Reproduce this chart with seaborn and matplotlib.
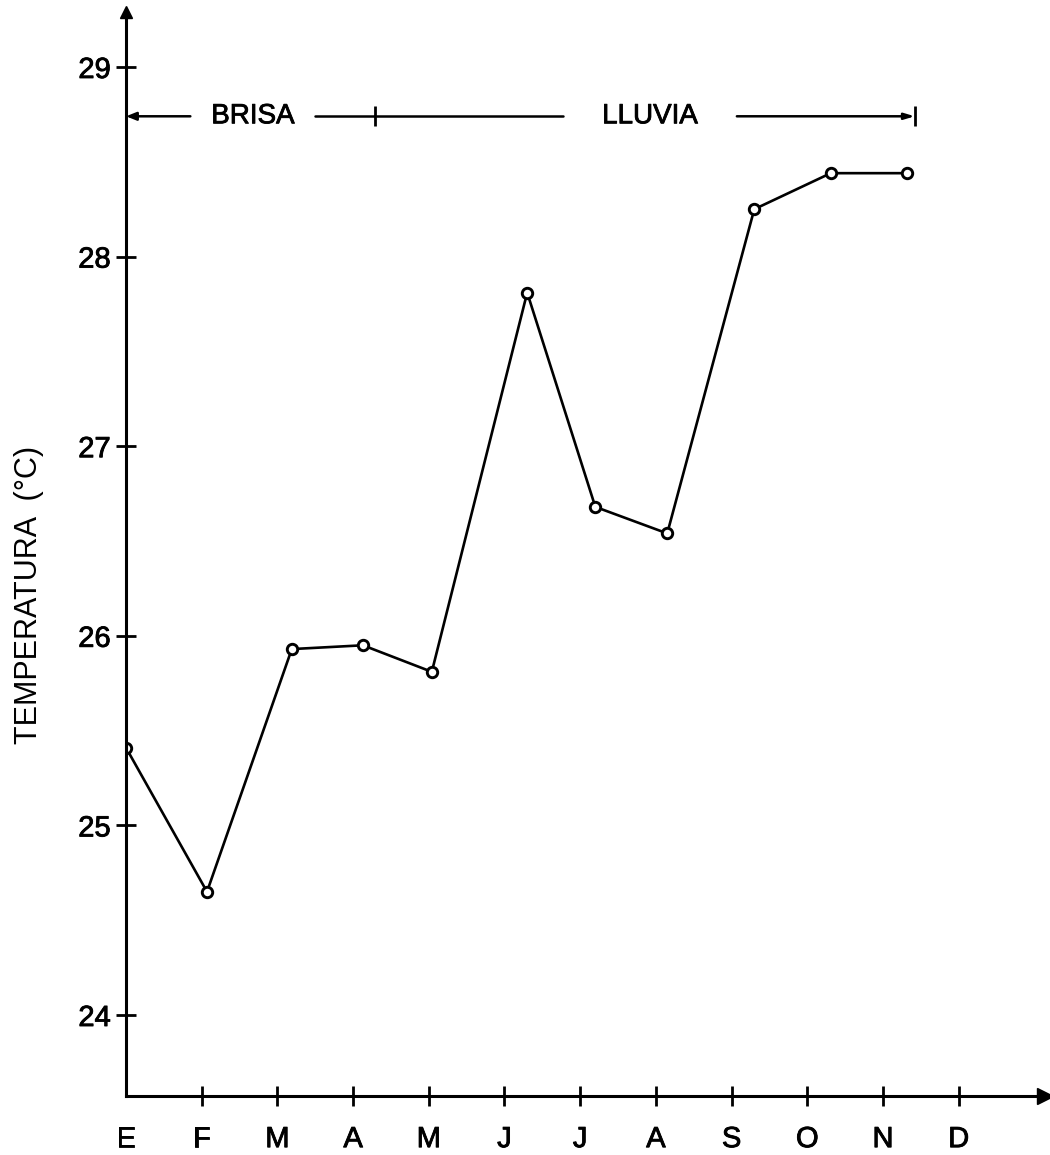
import matplotlib
matplotlib.use("Agg")
import matplotlib.pyplot as plt
import matplotlib.patheffects as pe
import seaborn as sns
import pandas as pd

# ---- data ----
month_labels = ["E", "F", "M", "A", "M", "J", "J", "A", "S", "O", "N", "D"]
month_pos = [0, 1, 2, 3, 4, 5, 6, 7, 8, 9, 10, 11]
obs_x = [0.0, 1.07, 2.19, 3.13, 4.04, 5.30, 6.20, 7.15, 8.30, 9.31, 10.32]
temperature = [25.41, 24.65, 25.93, 25.95, 25.81, 27.81, 26.68, 26.54, 28.25, 28.44, 28.44]
y_ticks = [24, 25, 26, 27, 28, 29]
seasons = ["BRISA", "LLUVIA"]
season_start = [0.0, 3.29]
season_end = [3.29, 10.42]
season_level = 28.74

df = pd.DataFrame({"mes": obs_x, "temp": temperature})

sns.set_theme(style="white")
plt.rcParams["font.family"] = ["Liberation Sans", "DejaVu Sans"]

heavy = [pe.withStroke(linewidth=0.6, foreground="black")]

fig = plt.figure(figsize=(10.5, 11.55), dpi=100)
ax = fig.add_axes([0.12, 0.0511, 0.8752, 0.9385])

sns.lineplot(data=df, x="mes", y="temp", ax=ax, color="black", lw=1.9,
             marker="o", markersize=7.5, markerfacecolor="white",
             markeredgecolor="black", markeredgewidth=2.1, sort=False)

ax.set_xlim(0, 12.14)
ax.set_ylim(23.573, 29.29)

for s in ["top", "right"]:
    ax.spines[s].set_visible(False)
for s in ["left", "bottom"]:
    ax.spines[s].set_color("black")
    ax.spines[s].set_linewidth(2.2)

ax.set_xticks(month_pos)
ax.set_xticklabels(month_labels)
ax.set_yticks(y_ticks)
ax.set_yticklabels([str(v) for v in y_ticks])
ax.tick_params(axis="both", which="major", bottom=True, left=True,
               direction="inout", length=14, width=2.0, color="black",
               labelsize=21, labelcolor="black")
ax.tick_params(axis="x", pad=14)
ax.tick_params(axis="y", pad=4)
ax.xaxis.get_major_ticks()[0].tick1line.set_visible(False)
for lab in ax.get_xticklabels() + ax.get_yticklabels():
    lab.set_path_effects(heavy)

ax.set_xlabel("")
ax.set_ylabel("TEMPERATURA  (°C)", fontsize=22, color="black")
ax.yaxis.set_label_coords(-0.089, 0.462)

# axis arrowheads
ax.plot(1, 0, marker=">", ms=11, color="black", transform=ax.transAxes, clip_on=False)
ax.plot(0, 1, marker="^", ms=9, color="black", transform=ax.transAxes, clip_on=False)

# season brackets
lw_b = 1.8
txt_kw = dict(fontsize=20, ha="center", va="center", color="black", path_effects=heavy)
# BRISA
b0, b1 = season_start[0], season_end[0]
ax.annotate("", xy=(b0, season_level), xytext=(0.85, season_level),
            arrowprops=dict(arrowstyle="-|>,head_length=0.5,head_width=0.2", color="black", lw=lw_b,
                            shrinkA=0, shrinkB=0))
ax.text((0.85 + 2.50) / 2, season_level, seasons[0], **txt_kw)
ax.plot([2.50, b1], [season_level, season_level], color="black", lw=lw_b)
ax.plot([b1], [season_level], marker="|", ms=14, mew=2.0, color="black")
# LLUVIA
l0, l1 = season_start[1], season_end[1]
ax.plot([l0, 5.77], [season_level, season_level], color="black", lw=lw_b)
ax.text((5.77 + 8.07) / 2, season_level, seasons[1], **txt_kw)
ax.annotate("", xy=(l1, season_level), xytext=(8.07, season_level),
            arrowprops=dict(arrowstyle="-|>,head_length=0.5,head_width=0.15", color="black", lw=lw_b,
                            shrinkA=0, shrinkB=0))
ax.plot([l1], [season_level], marker="|", ms=14, mew=2.0, color="black")

fig.savefig("out.png", dpi=100, facecolor="white")
